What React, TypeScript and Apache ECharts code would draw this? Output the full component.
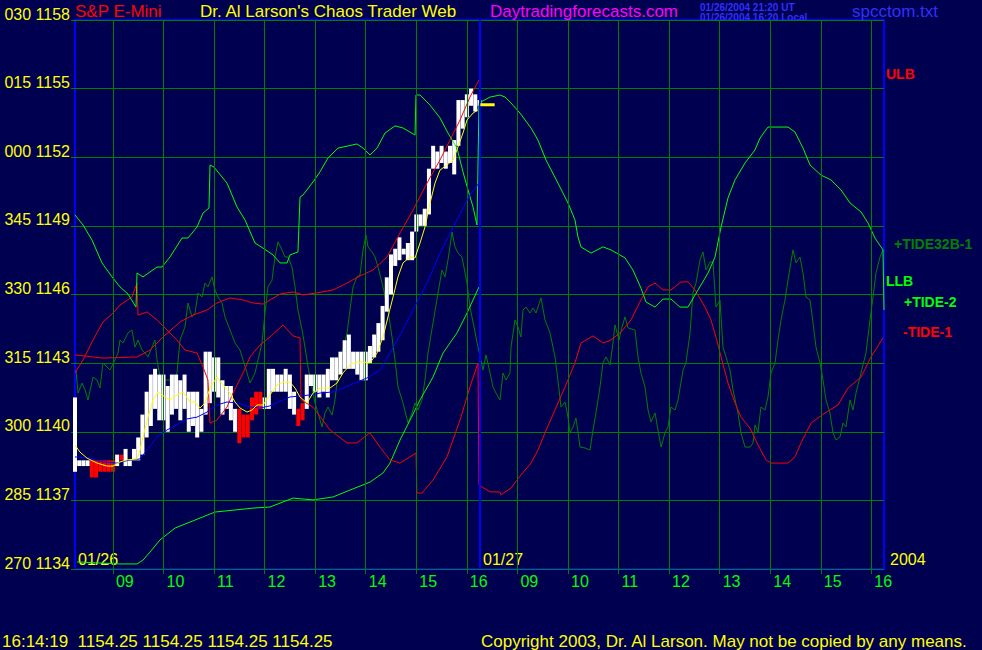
import React, { useEffect, useRef } from 'react';
import * as echarts from 'echarts';

// ---- axis ticks / labels ----
const hourTicks = [45, 105, 165, 225, 285, 345, 405, 465, 525, 585, 645, 705, 765, 825, 885, 945];
const hourLabels = ['09', '10', '11', '12', '13', '14', '15', '16', '09', '10', '11', '12', '13', '14', '15', '16'];
const dayBoundary = 480;
const degreeLabels = ['270', '285', '300', '315', '330', '345', '000', '015', '030'];

// ---- price bars: [minute, low, high, red] ----
const priceBars: number[][] = [
  [0, 1138.25, 1141.5, 0], [5, 1138.5, 1138.75, 0], [10, 1138.5, 1138.75, 0], [15, 1138.5, 1138.75, 0],
  [20, 1138.0, 1138.75, 1], [25, 1138.0, 1138.75, 1], [30, 1138.25, 1138.75, 1], [35, 1138.25, 1138.75, 1],
  [40, 1138.25, 1138.75, 1], [45, 1138.25, 1138.75, 1], [50, 1138.5, 1139.0, 0], [55, 1138.75, 1139.0, 1],
  [60, 1138.5, 1139.25, 0], [65, 1138.5, 1138.75, 0], [70, 1138.75, 1139.25, 0], [75, 1138.75, 1139.75, 0],
  [80, 1139.0, 1140.75, 0], [85, 1139.75, 1141.75, 0], [90, 1140.25, 1142.5, 0], [95, 1141.0, 1142.75, 0],
  [100, 1140.5, 1142.5, 0], [105, 1140.5, 1142.5, 0], [110, 1140.0, 1142.0, 0], [115, 1140.75, 1142.5, 0],
  [120, 1141.0, 1142.5, 0], [125, 1140.5, 1142.25, 0], [130, 1141.0, 1142.5, 0], [135, 1140.0, 1141.75, 0],
  [140, 1140.25, 1141.75, 0], [145, 1139.75, 1141.75, 0], [150, 1140.0, 1141.0, 0], [155, 1140.75, 1143.5, 0],
  [160, 1141.25, 1143.5, 0], [165, 1141.75, 1143.25, 0], [170, 1141.5, 1143.25, 0], [175, 1140.75, 1142.25, 0],
  [180, 1141.0, 1142.0, 0], [185, 1140.5, 1142.0, 0], [190, 1140.0, 1141.0, 0], [195, 1139.5, 1141.0, 1],
  [200, 1139.75, 1140.75, 1], [205, 1139.75, 1140.75, 1], [210, 1140.5, 1141.5, 1], [215, 1140.75, 1141.75, 1],
  [220, 1141.0, 1141.75, 1], [225, 1141.0, 1141.5, 0], [230, 1141.0, 1142.75, 0], [235, 1141.75, 1142.75, 0],
  [240, 1141.75, 1142.5, 0], [245, 1141.75, 1142.5, 0], [250, 1141.75, 1142.75, 0], [255, 1141.0, 1142.5, 0],
  [260, 1140.75, 1141.75, 0], [265, 1140.25, 1141.0, 1], [270, 1140.5, 1141.25, 1], [275, 1141.0, 1142.5, 0],
  [280, 1142.0, 1142.5, 0], [285, 1141.75, 1142.5, 0], [290, 1141.5, 1142.5, 0], [295, 1141.75, 1142.5, 0],
  [300, 1141.5, 1142.75, 0], [305, 1142.25, 1143.25, 0], [310, 1142.25, 1143.25, 0], [315, 1142.5, 1143.5, 0],
  [320, 1142.75, 1144.0, 0], [325, 1142.75, 1144.25, 0], [330, 1142.75, 1143.5, 0], [335, 1142.5, 1143.5, 0],
  [340, 1142.25, 1143.5, 0], [345, 1142.25, 1143.5, 0], [350, 1143.0, 1143.75, 0], [355, 1143.25, 1144.25, 0],
  [360, 1143.5, 1144.75, 0], [365, 1144.0, 1145.5, 0], [370, 1145.25, 1146.75, 0], [375, 1146.0, 1147.75, 0],
  [380, 1147.25, 1148.0, 0], [385, 1147.5, 1148.5, 0], [390, 1147.75, 1148.0, 0], [395, 1147.5, 1148.25, 0],
  [400, 1147.5, 1148.75, 0], [405, 1148.75, 1149.5, 0], [410, 1149.0, 1149.5, 0], [415, 1149.0, 1149.75, 0],
  [420, 1149.5, 1151.5, 0], [425, 1151.5, 1152.5, 0], [430, 1151.5, 1152.25, 0], [435, 1151.75, 1152.5, 0],
  [440, 1151.5, 1152.25, 0], [445, 1151.75, 1152.5, 0], [450, 1151.25, 1152.75, 0], [455, 1152.5, 1154.5, 0],
  [460, 1153.25, 1154.5, 0], [465, 1153.75, 1154.75, 0], [470, 1154.25, 1155.0, 0], [475, 1154.0, 1154.75, 0],
  [480, 1154.25, 1154.5, 0],
];

// ---- short moving average (yellow) ----
const fastAvg: number[][] = [
  [0, 1139.42], [5.9, 1139.11], [14.2, 1138.85], [26.1, 1138.63], [38, 1138.5], [45.1, 1138.5], [53.4, 1138.68],
  [61.7, 1138.77], [73.6, 1138.81], [77.1, 1139.2], [80.7, 1139.77], [86.6, 1140.64], [92.6, 1141.39], [98.5, 1141.74],
  [106.8, 1141.52], [112.7, 1141.39], [121, 1141.61], [128.2, 1141.74], [136.5, 1141.3], [142.4, 1141.3], [148.3, 1141.04],
  [154.3, 1141.26], [160.2, 1141.91], [168.5, 1142.39], [175.6, 1142.04], [183.9, 1141.69], [189.9, 1141.3], [195.8, 1141.04],
  [204.1, 1140.86], [210, 1140.95], [216, 1141.17], [223.1, 1141.17], [231.4, 1141.61], [239.7, 1142.04], [246.8, 1142.17],
  [255.1, 1142.17], [261.1, 1141.91], [267, 1141.52], [275.3, 1141.26], [282.4, 1141.69], [290.7, 1141.91], [302.6, 1141.91],
  [310.9, 1142.13], [318, 1142.57], [326.3, 1142.92], [334.6, 1143.05], [341.8, 1143.05], [350.1, 1143.01], [358.4, 1143.44],
  [365.5, 1144.14], [371.4, 1145.02], [377.4, 1145.89], [383.3, 1146.77], [389.2, 1147.38], [397.5, 1147.64], [403.5, 1147.6],
  [409.4, 1148.25], [415.3, 1148.95], [421.3, 1150.0], [427.2, 1150.87], [433.1, 1151.44], [441.4, 1151.66], [448.6, 1151.88],
  [454.5, 1152.45], [460.4, 1153.06], [465.2, 1153.63], [472.3, 1153.93], [478.2, 1154.07],
];
const fastForecast: number[][] = [[481, 1154.3], [498, 1154.3]];

// ---- longer moving average (blue) ----
const slowAvg: number[][] = [
  [0, 1138.9], [17.8, 1138.85], [33.2, 1138.68], [49.8, 1138.63], [65.3, 1138.77], [77.1, 1138.81], [85.4, 1139.2],
  [97.3, 1139.77], [109.2, 1140.08], [121, 1140.3], [132.9, 1140.56], [144.8, 1140.64], [156.6, 1140.86], [168.5, 1141.17],
  [180.4, 1141.3], [192.2, 1141.26], [207.7, 1141.08], [219.5, 1141.04], [231.4, 1141.13], [243.3, 1141.34], [255.1, 1141.52],
  [267, 1141.56], [278.9, 1141.61], [290.7, 1141.69], [306.2, 1141.74], [318, 1141.91], [334.6, 1142.17], [346.5, 1142.35],
  [361.9, 1142.7], [373.8, 1143.44], [385.7, 1144.23], [401.1, 1145.32], [417.7, 1146.5], [433.1, 1147.81], [453.3, 1149.26],
  [468.7, 1150.35], [479.4, 1150.87],
];

// ---- upper / lower limit bands (day 1) ----
const ulb: number[][] = [
  [0, 1143.36], [33.2, 1143.22], [73.6, 1143.27], [89, 1143.57], [104.4, 1144.14], [124.6, 1144.8], [140, 1145.1],
  [156.6, 1145.32], [168.5, 1145.63], [183.9, 1145.85], [199.4, 1145.76], [211.2, 1145.63], [223.1, 1145.58], [243.3, 1146.02],
  [258.7, 1146.11], [270.6, 1145.98], [287.2, 1146.07], [306.2, 1146.2], [322.8, 1146.5], [338.2, 1146.81], [353.6, 1147.07],
  [370.2, 1147.64], [385.7, 1148.69], [401.1, 1149.69], [417.7, 1150.87], [433.1, 1151.88], [445, 1152.75], [456.9, 1153.63],
  [468.7, 1154.63], [479.4, 1155.38],
];
const llb: number[][] = [
  [2.4, 1134.31], [29.7, 1134.26], [53.4, 1134.22], [73.6, 1134.22], [80.7, 1134.39], [89, 1134.74], [100.9, 1135.27],
  [118.7, 1135.79], [142.4, 1136.14], [166.1, 1136.49], [189.9, 1136.58], [213.6, 1136.67], [231.4, 1136.71], [258.7, 1137.1],
  [282.4, 1137.02], [306.2, 1137.15], [326.3, 1137.45], [350.1, 1137.8], [365.5, 1138.2], [373.8, 1138.63], [385.7, 1139.64],
  [397.6, 1140.51], [409.4, 1141.39], [424.8, 1142.39], [436.7, 1143.44], [453.3, 1144.32], [465.2, 1145.19], [479.4, 1146.33],
];

// ---- +TIDE-2 (bright green) ----
const tide2: number[][] = [
  [0, 1149.48], [9.5, 1149.04], [20.2, 1148.38], [32, 1147.38], [43.9, 1146.77], [53.4, 1146.33], [62.9, 1146.02], [72.4, 1145.45],
  [73.6, 1146.94], [80.7, 1146.77], [97.3, 1147.2], [103.2, 1147.2], [112.7, 1147.64], [127, 1148.47], [134.1, 1148.47],
  [144.8, 1148.95], [151.9, 1149.56], [159, 1149.78],
  [160.2, 1151.66], [164.9, 1151.57], [180.4, 1150.87], [192.2, 1149.83], [201.7, 1149.26], [213.6, 1148.25], [223.1, 1148.03],
  [235, 1147.73], [243.3, 1147.38], [251.6, 1147.38], [255.1, 1147.73], [264.6, 1147.86],
  [267, 1150.26], [270.6, 1150.35], [282.4, 1150.92], [290.7, 1151.36], [300.2, 1151.97], [312.1, 1152.4], [334.6, 1152.58],
  [341.8, 1152.4], [350.1, 1152.1], [358.4, 1152.4], [367.9, 1153.06], [379.7, 1153.37], [389.2, 1153.28], [403.5, 1152.97],
  [404.6, 1154.72], [409.4, 1154.72], [421.3, 1154.28], [433.1, 1153.72], [442.6, 1153.06], [453.3, 1152.4], [460.4, 1151.36],
  [466.4, 1150.57], [472.3, 1149.83], [477, 1149.04],
  [479.4, 1154.37], [481.8, 1154.42], [492.5, 1154.63], [504.3, 1154.72], [510.3, 1154.63], [517.4, 1154.37], [528.1, 1153.93],
  [541.1, 1153.28], [549.4, 1152.75], [558.9, 1151.88], [573.1, 1150.87], [585, 1150.0], [593.3, 1149.26], [596.9, 1148.51],
  [600.4, 1148.08], [612.3, 1147.81], [626.5, 1148.08], [636, 1147.95], [652.7, 1147.6], [662.1, 1147.07], [671.6, 1146.28],
  [677.6, 1145.67], [688.3, 1145.45], [697.8, 1145.8], [707.2, 1145.8], [717.9, 1145.45], [727.4, 1145.45], [739.3, 1146.2],
  [751.2, 1146.94], [759.5, 1147.64], [766.6, 1148.95], [774.9, 1150.22], [783.2, 1151.01], [795.1, 1151.75], [806.9, 1152.32],
  [812.9, 1152.84], [822.3, 1153.32], [846.1, 1153.32], [854.4, 1153.1], [863.9, 1152.4], [872.2, 1151.66], [885.2, 1151.22],
  [897.1, 1151.01], [909, 1150.57], [919.7, 1150.0], [932.7, 1149.61], [941, 1149.13], [949.3, 1148.47], [958.8, 1147.95],
  [960, 1145.32],
];

// ---- -TIDE-1 (red) ----
const tide1: number[][] = [
  [0, 1142.57], [9.5, 1143.14], [21.4, 1144.01], [33.2, 1144.8], [45.1, 1145.19], [53.4, 1145.54], [67.6, 1145.89], [73.6, 1146.5],
  [74.8, 1145.1], [85.4, 1145.24], [97.3, 1144.89], [109.2, 1144.45], [121, 1144.01], [130.5, 1143.57], [144.8, 1143.44],
  [151.9, 1142.83], [157.8, 1142.26],
  [160.2, 1140.38], [168.5, 1140.51], [180.4, 1141.08], [187.5, 1141.69], [199.4, 1142.57], [207.7, 1143.27], [219.5, 1143.79],
  [231.4, 1144.14], [246.8, 1144.67], [258.7, 1144.19], [267, 1144.1],
  [268.2, 1141.39], [282.4, 1141.08], [302.6, 1140.08], [322.8, 1139.51], [334.6, 1139.51], [346.5, 1139.86], [350.1, 1139.95],
  [361.9, 1139.33], [373.8, 1138.77], [385.7, 1138.63], [397.5, 1138.9], [404.6, 1139.07],
  [405.8, 1137.32], [411.8, 1137.32], [424.8, 1137.89], [441.4, 1138.9], [456.9, 1140.51], [468.7, 1141.96], [478.2, 1143.01],
  [479.4, 1137.67], [492.5, 1137.37], [504.3, 1137.37], [505.5, 1137.24], [517.4, 1137.54], [529.2, 1138.11], [541.1, 1138.63],
  [549.4, 1139.2], [557.7, 1139.95], [569.6, 1140.95], [581.5, 1141.96], [593.3, 1143.01], [600.4, 1143.88], [614.7, 1144.19],
  [626.5, 1143.88], [636, 1144.01], [647.9, 1144.36], [659.8, 1144.89], [671.6, 1145.76], [680, 1146.33], [688.3, 1146.5],
  [697.8, 1146.2], [707.2, 1146.2], [719.1, 1146.55], [727.4, 1146.55], [735.7, 1146.2], [747.6, 1145.45], [754.7, 1144.89],
  [760.6, 1144.14], [766.6, 1143.27], [774.9, 1142.13], [783.2, 1141.26], [790.3, 1140.64], [801, 1140.16], [810.5, 1139.42],
  [820, 1138.77], [825.9, 1138.63], [846.1, 1138.63], [854.4, 1138.9], [861.5, 1139.51], [873.4, 1140.38], [890, 1140.82],
  [905.4, 1141.17], [917.3, 1141.91], [932.7, 1142.39], [944.6, 1143.27], [958.8, 1144.1],
];

// ---- +TIDE32B-1 (dark green) ----
const tide32b: number[][] = [
  [1.2, 1142.7], [3.6, 1141.69], [8.3, 1142.13], [11.9, 1141.83], [15.4, 1141.39], [21.4, 1142.39], [26.1, 1142.26],
  [29.7, 1141.91], [33.2, 1143.01], [38, 1142.83], [41.5, 1142.7], [47.5, 1143.14], [51, 1143.44], [53.4, 1144.01],
  [57, 1143.88], [62.9, 1144.32], [67.6, 1144.45], [71.2, 1143.7], [74.8, 1144.01], [79.5, 1143.57], [83.1, 1143.44],
  [86.6, 1143.27], [91.4, 1143.7], [94.9, 1144.01], [97.3, 1143.14], [100.9, 1142.39], [104.4, 1142.26], [112.7, 1142.26],
  [116.3, 1142.13], [121, 1142.57], [124.6, 1144.01], [130.5, 1144.58], [134.1, 1145.63], [138.8, 1145.02], [142.4, 1145.19],
  [146, 1146.07], [150.7, 1145.89], [154.3, 1146.5], [157.8, 1146.33], [162.6, 1146.77], [166.1, 1146.2], [169.7, 1145.89],
  [174.4, 1145.63], [178, 1145.02], [183.9, 1144.45], [189.9, 1143.88], [195.8, 1143.57], [199.4, 1143.14], [204.1, 1142.57],
  [207.7, 1142.13], [213.6, 1142.57], [217.2, 1143.14], [221.9, 1143.88], [225.5, 1145.19], [229, 1146.33], [233.8, 1146.63],
  [237.3, 1147.64], [240.9, 1148.3], [245.6, 1147.95], [249.2, 1147.64], [252.8, 1147.64], [257.5, 1147.2], [261.1, 1146.33],
  [264.6, 1145.32], [269.4, 1144.45], [272.9, 1143.7], [276.5, 1142.83], [281.2, 1141.96], [284.8, 1141.26], [288.4, 1140.82],
  [293.1, 1140.21], [296.7, 1140.82], [300.2, 1141.08], [305, 1140.73], [308.5, 1141.39], [312.1, 1142.57], [316.8, 1143.44],
  [322.8, 1144.32], [326.3, 1145.32], [329.9, 1146.33], [334.6, 1146.77], [338.2, 1146.85], [341.8, 1147.95], [345.3, 1148.6],
  [347.7, 1148.08], [352.4, 1147.86], [356, 1147.64], [359.6, 1147.2], [365.5, 1146.33], [371.4, 1145.32], [376.2, 1144.14],
  [379.7, 1143.14], [383.3, 1141.96], [389.2, 1141.26], [395.2, 1140.38], [399.9, 1140.82], [403.5, 1141.26], [407, 1140.95],
  [411.8, 1141.39], [415.3, 1142.26], [418.9, 1143.44], [424.8, 1144.75], [430.8, 1146.07], [435.5, 1147.07], [439.1, 1146.77],
  [442.6, 1147.51], [447.4, 1148.73], [450.9, 1148.08], [454.5, 1147.81], [459.2, 1147.64], [465.2, 1146.5], [468.7, 1145.45],
  [473.5, 1144.58], [478.2, 1143.7],
  [484.2, 1142.7], [487.7, 1143.36], [492.5, 1142.57], [496, 1141.96], [499.6, 1141.69], [504.3, 1141.39], [507.9, 1142.57],
  [511.4, 1142.26], [516.2, 1142.57], [517.4, 1143.7], [522.1, 1144.89], [525.7, 1144.58], [529.2, 1144.14], [531.6, 1145.32],
  [535.2, 1145.45], [539.9, 1145.19], [543.5, 1145.41], [547, 1145.19], [553, 1145.85], [557.7, 1144.89], [563.7, 1144.32],
  [569.6, 1143.27], [573.1, 1142.26], [576.7, 1141.08], [581.5, 1141.3], [585, 1140.64], [587.4, 1139.95], [591, 1140.21],
  [594.5, 1140.6], [599.3, 1139.33], [605.2, 1139.29], [611.1, 1139.2], [614.7, 1140.08], [618.2, 1140.82], [623, 1141.96],
  [626.5, 1143.01], [630.1, 1143.27], [634.9, 1142.92], [638.4, 1143.88], [640.8, 1144.67], [645.5, 1144.01], [649.1, 1144.58],
  [652.7, 1145.02], [656.2, 1144.54], [664.5, 1144.45], [668.1, 1143.27], [671.6, 1142.57], [676.4, 1141.96], [680, 1140.95],
  [683.5, 1140.43], [688.3, 1140.82], [691.8, 1140.08], [695.4, 1139.33], [700.1, 1139.95], [703.7, 1140.21], [707.2, 1141.08],
  [712, 1140.95], [715.6, 1141.39], [721.5, 1142.7], [725, 1143.01], [729.8, 1144.32], [733.3, 1146.07], [736.9, 1146.5],
  [741.7, 1147.51], [745.2, 1147.86], [748.8, 1147.07], [753.5, 1147.42], [757.1, 1147.42], [760.6, 1145.45], [765.4, 1145.76],
  [768.9, 1143.7], [772.5, 1143.27], [777.3, 1142.7], [780.8, 1141.83], [786.7, 1140.82], [790.3, 1139.95], [795.1, 1139.33],
  [801, 1139.33], [804.6, 1139.51], [806.9, 1140.3], [810.5, 1139.99], [814, 1141.08], [818.8, 1140.95], [822.3, 1141.52],
  [825.9, 1142.57], [830.7, 1143.01], [834.2, 1144.01], [837.8, 1144.89], [842.5, 1145.76], [846.1, 1146.63], [852, 1147.95],
  [855.6, 1147.38], [860.3, 1147.64], [863.9, 1146.94], [867.4, 1145.89], [872.2, 1145.76], [875.8, 1144.75], [879.3, 1143.7],
  [884.1, 1143.01], [887.6, 1142.26], [891.2, 1141.39], [895.9, 1140.82], [899.5, 1139.95], [903, 1139.64], [907.8, 1139.77],
  [911.3, 1140.38], [914.9, 1140.21], [919.7, 1141.39], [923.2, 1140.95], [926.8, 1141.69], [932.7, 1142.57], [938.6, 1143.44],
  [943.4, 1144.89], [947, 1145.89], [950.5, 1146.94], [955.3, 1147.64], [958.8, 1147.95],
];

const FONT = 'Liberation Sans, Arial, Helvetica, sans-serif';
const BG = '#000050';

function lineSeries(name: string, data: number[][], color: string, z: number, width = 1): any {
  return {
    name, type: 'line', data, z, showSymbol: false, symbol: 'none', silent: true,
    lineStyle: { color, width }, emphasis: { disabled: true },
  };
}

function txt(text: string, x: number, y: number, fill: string, font: string): any {
  return { type: 'text', x, y, silent: true, style: { text, fill, font, verticalAlign: 'top', align: 'left' } };
}

export default function App() {
  const ref = useRef<HTMLDivElement>(null);
  useEffect(() => {
    document.body.style.margin = '0';
    document.body.style.background = BG;
    const chart = echarts.init(ref.current!, null, { renderer: 'svg' });
    const option: any = {
      animation: false,
      backgroundColor: BG,
      grid: { left: 75, top: 20, width: 809, height: 549, show: true, borderColor: '#0000ff', borderWidth: 2, backgroundColor: 'transparent', containLabel: false },
      xAxis: {
        type: 'value', min: 0, max: 960,
        axisLine: { show: false },
        splitLine: { show: false },
        axisTick: { show: true, customValues: hourTicks, length: 5, lineStyle: { color: '#008000' } },
        axisLabel: {
          customValues: hourTicks, color: '#00ff00', fontSize: 16, fontFamily: FONT, align: 'left', margin: 4,
          padding: [0, 0, 0, 3],
          formatter: (v: number) => hourLabels[hourTicks.indexOf(v)] ?? '',
        },
      },
      yAxis: {
        type: 'value', min: 1134, max: 1158, interval: 3,
        axisLine: { show: false },
        axisTick: { show: true, length: 4, lineStyle: { color: '#008000' } },
        splitLine: { show: true, lineStyle: { color: '#008000', width: 1 } },
        axisLabel: {
          color: '#ffff00', fontSize: 16, fontFamily: FONT, margin: 5, verticalAlign: 'bottom', lineHeight: 12,
          formatter: (v: number) => `${degreeLabels[Math.round((v - 1134) / 3)]} ${v}`,
        },
      },
      series: [
        {
          ...lineSeries('+TIDE32B-1', tide32b, '#008000', 2),
          markLine: {
            silent: true, symbol: ['none', 'none'], label: { show: false },
            lineStyle: { color: '#008000', width: 1, type: 'solid' },
            emphasis: { disabled: true },
            data: [
              ...hourTicks.map((v) => ({ xAxis: v })),
              { xAxis: dayBoundary, lineStyle: { color: '#0000ff', width: 2, type: 'solid' } },
            ],
          },
        },
        {
          name: 'price', type: 'custom', z: 3, silent: true, data: priceBars,
          encode: { x: 0, y: [1, 2] },
          renderItem: (_p: any, api: any) => {
            const t = api.value(0), lo = api.value(1), hi = api.value(2), red = api.value(3);
            const a = api.coord([t, lo]);
            const b = api.coord([t, hi]);
            return {
              type: 'rect',
              shape: { x: a[0] - 2, y: b[1], width: 4, height: Math.max(a[1] - b[1], 2) },
              style: { fill: red ? '#ff0000' : '#ffffff' },
            };
          },
        },
        lineSeries('ULB', ulb, '#ff0000', 4),
        lineSeries('LLB', llb, '#00ff00', 4),
        lineSeries('-TIDE-1', tide1, '#ff0000', 4),
        lineSeries('+TIDE-2', tide2, '#00ff00', 4),
        lineSeries('slow', slowAvg, '#0000ff', 5),
        lineSeries('fast', fastAvg, '#ffff00', 6),
        lineSeries('fastForecast', fastForecast, '#ffff00', 6, 3),
      ],
      graphic: [
        txt('S&P E-Mini', 75, 3, '#ff0000', `17px ${FONT}`),
        txt("Dr. Al Larson's Chaos Trader Web", 200, 3, '#ffff00', `17px ${FONT}`),
        txt('Daytradingforecasts.com', 490, 3, '#ff00ff', `17px ${FONT}`),
        txt('01/26/2004 21:20 UT', 700, 2, '#3030ff', `bold 10px ${FONT}`),
        txt('01/26/2004 16:20 Local', 700, 12, '#3030ff', `bold 10px ${FONT}`),
        txt('spcctom.txt', 852, 3, '#3030ff', `17px ${FONT}`),
        txt('ULB', 886, 67, '#ff0000', `bold 14px ${FONT}`),
        txt('+TIDE32B-1', 894, 237, '#008000', `bold 14px ${FONT}`),
        txt('LLB', 886, 274, '#00ff00', `bold 14px ${FONT}`),
        txt('+TIDE-2', 904, 295, '#00ff00', `bold 14px ${FONT}`),
        txt('-TIDE-1', 903, 325, '#ff0000', `bold 14px ${FONT}`),
        txt('01/26', 78, 551, '#ffff00', `16px ${FONT}`),
        txt('01/27', 483, 551, '#ffff00', `16px ${FONT}`),
        txt('2004', 890, 551, '#ffff00', `16px ${FONT}`),
        txt('16:14:19  1154.25 1154.25 1154.25 1154.25', 2, 633, '#ffff00', `17px ${FONT}`),
        txt('Copyright 2003, Dr. Al Larson. May not be copied by any means.', 481, 633, '#ffff00', `17px ${FONT}`),
      ],
    };
    chart.setOption(option);
    return () => chart.dispose();
  }, []);
  return <div ref={ref} style={{ position: 'fixed', left: 0, top: 0, width: 982, height: 650, background: BG }} />;
}
